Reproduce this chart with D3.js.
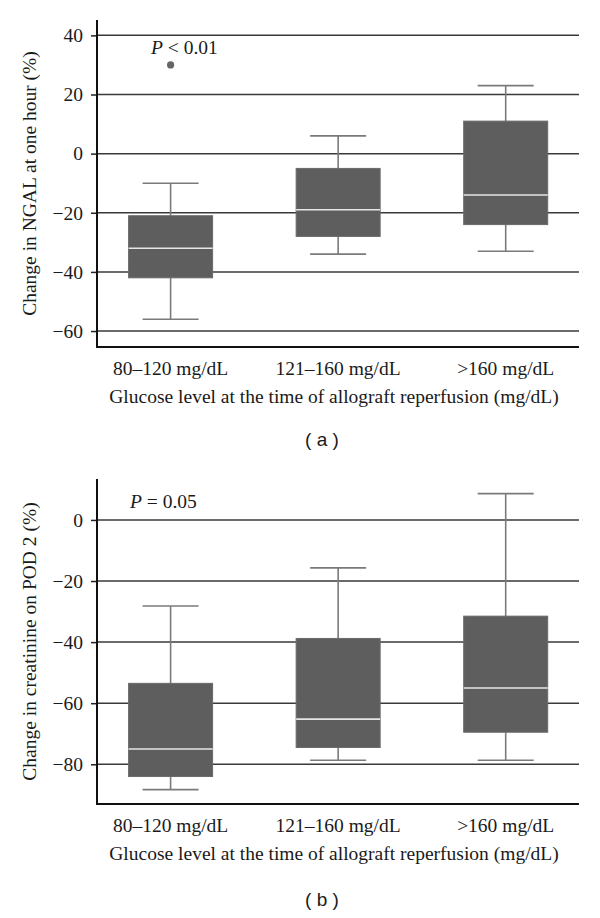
<!DOCTYPE html>
<html>
<head>
<meta charset="utf-8">
<script src="https://cdn.jsdelivr.net/npm/d3@7"></script>
<style>
  html, body { margin: 0; padding: 0; background: #fff; }
  svg { display: block; }
  text { font-family: "Liberation Serif", "Times New Roman", serif; fill: #1a1a1a; }
</style>
</head>
<body>
<svg id="chart" width="600" height="918"></svg>
<script>
// ---- data ----
const categories = ["80\u2013120 mg/dL", "121\u2013160 mg/dL", ">160 mg/dL"];

// Panel (a): change in NGAL at one hour (%)
const ngalLowWhisker = [-56, -34, -33];
const ngalQ1         = [-42, -28, -24];
const ngalMedian     = [-32, -19, -14];
const ngalQ3         = [-21, -5, 11];
const ngalHighWhisker= [-10, 6, 23];
const ngalOutliers   = [{cat: "80\u2013120 mg/dL", value: 30}];
const ngalTicks      = [40, 20, 0, -20, -40, -60];

// Panel (b): change in creatinine on POD 2 (%)
const creatLowWhisker = [-88.3, -78.7, -78.7];
const creatQ1         = [-84, -74.5, -69.5];
const creatMedian     = [-75, -65.2, -55];
const creatQ3         = [-53.5, -38.8, -31.5];
const creatHighWhisker= [-28.2, -15.7, 8.6];
const creatTicks      = [0, -20, -40, -60, -80];

const FS = 19.5;
const SERIF = "'Liberation Serif', 'Times New Roman', serif";
const svg = d3.select("#chart");

function drawPanel(cfg) {
  const g = svg.append("g");
  const x = d3.scalePoint().domain(categories).range([cfg.left + 73.6, cfg.left + 408.7]);
  const y = d3.scaleLinear().domain(cfg.domain).range([cfg.bottom, cfg.top]);

  // gridlines
  g.append("g").selectAll("line").data(cfg.ticks).join("line")
    .attr("x1", cfg.left).attr("x2", cfg.right)
    .attr("y1", d => y(d)).attr("y2", d => y(d))
    .attr("stroke", "#3a3a3a").attr("stroke-width", 1.5);

  // y axis
  const yAxis = d3.axisLeft(y).tickValues(cfg.ticks).tickSize(6).tickPadding(8)
    .tickFormat(d3.format("d"));
  const ya = g.append("g").attr("transform", `translate(${cfg.left},0)`).call(yAxis);
  ya.select(".domain").remove();
  ya.attr("font-family", null).attr("font-size", null);
  ya.selectAll(".tick line").attr("stroke", "#222").attr("stroke-width", 1.5);
  ya.selectAll(".tick text")
    .style("font-family", SERIF).style("font-size", FS + "px").style("fill", "#1a1a1a")
    .text(d => (d < 0 ? "\u2212" + Math.abs(d) : String(d)));

  // axis frame (left + bottom)
  g.append("line").attr("x1", cfg.left).attr("x2", cfg.left)
    .attr("y1", cfg.top).attr("y2", cfg.bottom + 1)
    .attr("stroke", "#111").attr("stroke-width", 2);
  g.append("line").attr("x1", cfg.left).attr("x2", cfg.right)
    .attr("y1", cfg.bottom).attr("y2", cfg.bottom)
    .attr("stroke", "#111").attr("stroke-width", 2);

  const boxes = categories.map((c, i) => ({
    cat: c, lo: cfg.lo[i], q1: cfg.q1[i], med: cfg.med[i], q3: cfg.q3[i], hi: cfg.hi[i]
  }));
  const bw = 84, cw = 56;
  const bg = g.append("g").selectAll("g").data(boxes).join("g");
  // whiskers
  bg.append("line").attr("x1", d => x(d.cat)).attr("x2", d => x(d.cat))
    .attr("y1", d => y(d.hi)).attr("y2", d => y(d.q3))
    .attr("stroke", "#7a7a7a").attr("stroke-width", 1.6);
  bg.append("line").attr("x1", d => x(d.cat)).attr("x2", d => x(d.cat))
    .attr("y1", d => y(d.q1)).attr("y2", d => y(d.lo))
    .attr("stroke", "#7a7a7a").attr("stroke-width", 1.6);
  bg.append("line").attr("x1", d => x(d.cat) - cw / 2).attr("x2", d => x(d.cat) + cw / 2)
    .attr("y1", d => y(d.hi)).attr("y2", d => y(d.hi))
    .attr("stroke", "#7a7a7a").attr("stroke-width", 1.6);
  bg.append("line").attr("x1", d => x(d.cat) - cw / 2).attr("x2", d => x(d.cat) + cw / 2)
    .attr("y1", d => y(d.lo)).attr("y2", d => y(d.lo))
    .attr("stroke", "#7a7a7a").attr("stroke-width", 1.6);
  // box
  bg.append("rect").attr("x", d => x(d.cat) - bw / 2).attr("width", bw)
    .attr("y", d => y(d.q3)).attr("height", d => y(d.q1) - y(d.q3))
    .attr("fill", "#5e5e5e").attr("stroke", "#6a6a6a").attr("stroke-width", 1);
  // median
  bg.append("line").attr("x1", d => x(d.cat) - bw / 2).attr("x2", d => x(d.cat) + bw / 2)
    .attr("y1", d => y(d.med)).attr("y2", d => y(d.med))
    .attr("stroke", "#e6e6e6").attr("stroke-width", 1.6);

  // outliers
  if (cfg.outliers) {
    g.append("g").selectAll("circle").data(cfg.outliers).join("circle")
      .attr("cx", d => x(d.cat)).attr("cy", d => y(d.value)).attr("r", 3.6)
      .attr("fill", "#666");
  }

  // x tick labels
  g.append("g").selectAll("text").data(categories).join("text")
    .attr("x", d => x(d)).attr("y", cfg.bottom + 28)
    .attr("text-anchor", "middle").style("font-size", FS + "px")
    .text(d => d);

  // x title
  g.append("text").attr("x", (cfg.left + cfg.right) / 2 - 4).attr("y", cfg.bottom + 56)
    .attr("text-anchor", "middle").style("font-size", FS + "px")
    .text("Glucose level at the time of allograft reperfusion (mg/dL)");

  // y title
  g.append("text")
    .attr("transform", `translate(36,${(cfg.top + cfg.bottom) / 2}) rotate(-90)`)
    .attr("text-anchor", "middle").style("font-size", FS + "px")
    .text(cfg.yTitle);

  // P annotation
  const p = g.append("text").attr("x", cfg.pX).attr("y", cfg.pY).style("font-size", FS + "px");
  p.append("tspan").attr("font-style", "italic").text("P");
  p.append("tspan").text(cfg.pText);

  // panel label
  svg.append("text").attr("x", 322).attr("y", cfg.labelY)
    .attr("text-anchor", "middle").style("font-size", "19px")
    .style("font-family", "'Liberation Sans', Arial, sans-serif")
    .text(cfg.label);
}

drawPanel({
  left: 97, right: 579, top: 20, bottom: 347,
  domain: [-65.4, 45.2], ticks: ngalTicks,
  lo: ngalLowWhisker, q1: ngalQ1, med: ngalMedian, q3: ngalQ3, hi: ngalHighWhisker,
  outliers: ngalOutliers,
  yTitle: "Change in NGAL at one hour (%)",
  pX: 151, pY: 54, pText: " < 0.01",
  label: "( a )", labelY: 446
});

drawPanel({
  left: 97, right: 579, top: 479, bottom: 804,
  domain: [-93, 13.4], ticks: creatTicks,
  lo: creatLowWhisker, q1: creatQ1, med: creatMedian, q3: creatQ3, hi: creatHighWhisker,
  outliers: null,
  yTitle: "Change in creatinine on POD 2 (%)",
  pX: 130, pY: 508, pText: " = 0.05",
  label: "( b )", labelY: 906
});
</script>
</body>
</html>
